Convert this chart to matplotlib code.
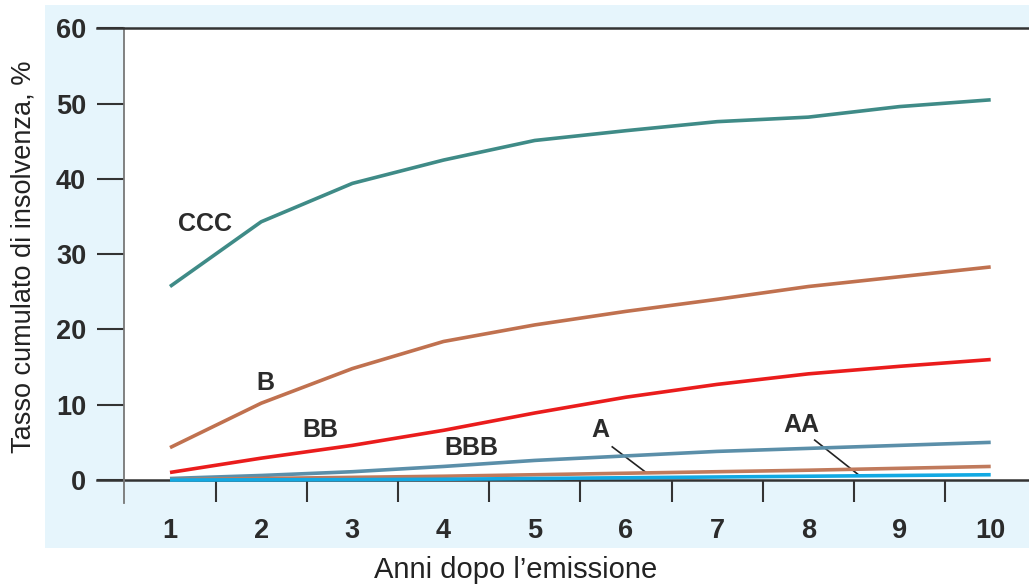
import matplotlib
matplotlib.use('Agg')
import matplotlib.pyplot as plt
from matplotlib.patches import Rectangle

years = [1, 2, 3, 4, 5, 6, 7, 8, 9, 10]
ccc = [25.7, 34.3, 39.4, 42.5, 45.1, 46.4, 47.6, 48.2, 49.6, 50.5]
b = [4.3, 10.2, 14.8, 18.4, 20.6, 22.4, 24.0, 25.7, 27.0, 28.3]
bb = [1.0, 2.9, 4.6, 6.6, 8.9, 11.0, 12.7, 14.1, 15.1, 16.0]
bbb = [0.2, 0.6, 1.1, 1.8, 2.6, 3.2, 3.8, 4.2, 4.6, 5.0]
a = [0.05, 0.2, 0.35, 0.5, 0.7, 0.9, 1.1, 1.3, 1.55, 1.8]
aa = [0.0, 0.02, 0.05, 0.1, 0.2, 0.3, 0.4, 0.5, 0.6, 0.7]

series = [('CCC', ccc, '#3f8b87'), ('B', b, '#c0714f'), ('BB', bb, '#ea1c1c'),
          ('BBB', bbb, '#5b8fa9'), ('A', a, '#c07a5c'), ('AA', aa, '#12a9e3')]

W, H = 1029, 585
fig = plt.figure(figsize=(W / 100, H / 100), dpi=100)
fig.patch.set_facecolor('white')

# light blue panel behind the chart
fig.patches.append(Rectangle((45 / W, 1 - 548 / H), 1 - 45 / W, (548 - 5) / H,
                             transform=fig.transFigure, facecolor='#e6f5fc',
                             edgecolor='none', zorder=-5))

left, right = 124.4 / W, 1.0
top, bottom = 1 - 28.3 / H, 1 - 480 / H
ax = fig.add_axes([left, bottom, right - left, top - bottom])
ax.set_facecolor('white')
ax.set_xlim(0.5, 10.42)
ax.set_ylim(0, 60)

tick_font = dict(family=['Liberation Sans', 'DejaVu Sans'],
                 weight='bold', size=19.5, color='#2b2b2b')

for name, vals, col in series:
    ax.plot(years, vals, color=col, lw=2.6, solid_capstyle='butt', clip_on=False, zorder=3)

for s in ['top', 'right', 'bottom']:
    ax.spines[s].set_visible(False)
ax.spines['left'].set_color('#777777')
ax.spines['left'].set_linewidth(1.3)

# y axis ticks
ax.set_yticks([0, 10, 20, 30, 40, 50, 60])
ax.set_yticklabels(['0', '10', '20', '30', '40', '50', '60'], **tick_font)
ax.tick_params(axis='y', length=19.5, width=1.5, color='#333333', pad=8)

# x axis ticks: labels on the years, marks between them
ax.set_xticks(years)
ax.set_xticklabels([str(y) for y in years], **tick_font)
ax.set_xticks([1.5, 2.5, 3.5, 4.5, 5.5, 6.5, 7.5, 8.5, 9.5], minor=True)
ax.tick_params(axis='x', which='major', length=0, pad=27)
ax.tick_params(axis='x', which='minor', length=16, width=1.5, color='#333333', direction='out')

# frame lines at 60 and 0 reaching past the axis
ext = -27 / (W * (right - left))
ax.plot([ext, 1], [1, 1], transform=ax.transAxes, color='#333333', lw=1.8, clip_on=False, zorder=4)
ax.plot([ext, 1], [0, 0], transform=ax.transAxes, color='#333333', lw=1.8, clip_on=False, zorder=2)
ax.plot([0, 0], [0, -23 / (H * (top - bottom))], transform=ax.transAxes, color='#777777',
        lw=1.3, clip_on=False)

# series labels
lab_font = dict(family=['Liberation Sans', 'DejaVu Sans'],
                weight='bold', size=18, color='#2b2b2b', ha='center', va='center')
ax.text(1.38, 34.0, 'CCC', **lab_font)
ax.text(2.05, 12.9, 'B', **lab_font)
ax.text(2.65, 6.7, 'BB', **lab_font)
ax.text(4.31, 4.3, 'BBB', **lab_font)
ax.text(5.72, 6.6, 'A', **lab_font)
ax.text(7.92, 7.3, 'AA', **lab_font)
ax.plot([5.85, 6.22], [4.4, 1.0], color='#222222', lw=1.2)
ax.plot([8.07, 8.56], [5.3, 0.6], color='#222222', lw=1.2)

fam = ['Liberation Sans', 'DejaVu Sans']
fig.text(516 / W, 1 - 570 / H, 'Anni dopo l\u2019emissione', ha='center', va='center',
         family=fam, size=21, color='#222222')
fig.text(24 / W, 1 - 257 / H, 'Tasso cumulato di insolvenza, %', ha='center', va='center',
         rotation=90, family=fam, size=19.5, color='#222222')

fig.savefig('out.png', dpi=100, facecolor=fig.get_facecolor())
